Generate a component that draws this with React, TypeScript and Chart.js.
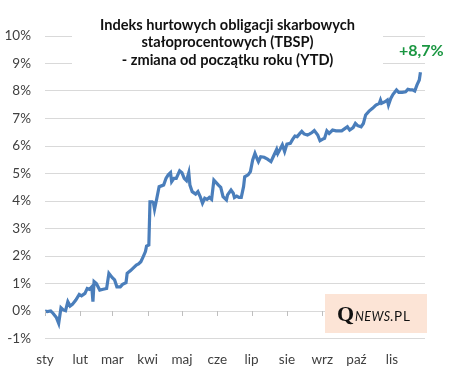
import { useEffect, useRef } from "react";
import { Chart, registerables } from "chart.js";

Chart.register(...registerables);

const monthLabels = ["sty", "lut", "mar", "kwi", "maj", "cze", "lip", "sie", "wrz", "paź", "lis"];
const monthStartDays = [0, 31, 59, 90, 120, 151, 181, 212, 243, 273, 304];

const days = [
  0, 2, 5, 7, 10, 12, 14, 16, 18, 20, 22, 24, 27, 30, 32, 35, 37, 39, 41, 42, 43, 45, 48, 51, 54, 56, 59, 61, 63, 66, 68, 71, 72, 75, 77, 80, 82,
  84, 86, 88, 89, 91, 92, 94, 95, 96, 98, 100, 102, 104, 106, 108, 110, 111, 113, 115, 118, 120, 122, 124, 126, 127, 129, 132, 134, 136, 138, 140, 142, 144, 146, 148, 150, 152, 154, 156, 159,
  160, 163, 165, 166, 168, 170, 172, 174, 175, 178, 180, 182, 184, 186, 187, 189, 192, 195, 198, 200, 203, 204, 206, 208, 210, 212, 215, 217, 219, 221, 223, 225, 227, 230, 232, 234, 236, 239, 241, 243, 245,
  247, 249, 252, 255, 257, 260, 263, 265, 267, 270, 272, 274, 277, 279, 281, 284, 287, 290, 293, 294, 295, 298, 300, 301, 303, 305, 308, 310, 313, 316, 318, 320, 322, 324, 326, 328, 329,
];

const values = [
  0.0, -0.02, 0.0, -0.08, -0.24, -0.45, 0.12, 0.04, 0.01, 0.34, 0.18, 0.24, 0.4, 0.6, 0.55, 0.64, 0.82, 0.79, 0.88, 0.34, 1.07, 1.0, 0.76, 0.79, 0.82, 1.37, 1.21, 1.13, 0.88, 0.88, 0.97, 1.03, 1.37, 1.47, 1.55, 1.67, 1.71,
  1.79, 1.97, 2.16, 2.36, 2.4, 3.97, 3.97, 3.94, 3.7, 4.1, 4.52, 4.55, 4.58, 4.82, 4.95, 5.03, 4.7, 4.82, 4.82, 5.1, 5.03, 4.82, 4.74, 5.03, 4.58, 4.34, 4.25, 4.34, 4.16, 3.92, 4.1, 4.06, 4.13, 4.06, 4.76, 4.67, 4.58, 4.5, 4.16, 4.04,
  4.22, 4.4, 4.28, 4.13, 4.18, 4.13, 4.13, 4.52, 4.88, 4.95, 5.07, 5.49, 5.73, 5.52, 5.43, 5.61, 5.59, 5.52, 5.43, 5.61, 5.88, 5.73, 5.88, 6.04, 5.8, 6.07, 6.1, 6.24, 6.36, 6.34, 6.44, 6.53, 6.44, 6.4, 6.44, 6.49, 6.56, 6.4, 6.19, 6.24, 6.28,
  6.55, 6.46, 6.58, 6.55, 6.55, 6.55, 6.64, 6.7, 6.58, 6.67, 6.82, 6.74, 6.7, 6.82, 7.13, 7.27, 7.37, 7.49, 7.55, 7.67, 7.55, 7.61, 7.67, 7.49, 7.73, 7.88, 8.04, 7.95, 7.95, 7.97, 8.06, 8.04, 8.04, 8.0, 8.22, 8.4, 8.68,
];

const yMin = -1;
const yMax = 10;
const xMax = 333;

const titleLines = [
  "Indeks hurtowych obligacji skarbowych",
  "stałoprocentowych (TBSP)",
  "- zmiana od początku roku (YTD)",
];
const annotationText = "+8,7%";

const FONT = "Lato, 'Open Sans', sans-serif";

const overlayPlugin = {
  id: "overlay",
  beforeDatasetsDraw(chart: any) {
    const ctx = chart.ctx;
    ctx.save();
    ctx.fillStyle = "#ffffff";
    ctx.fillRect(72, 10, 311, 62);
    ctx.restore();
  },
  afterDraw(chart: any) {
    const ctx = chart.ctx;
    const xs = chart.scales.x;
    const ys = chart.scales.y;
    ctx.save();
    // tick marks on the zero line
    const y0 = ys.getPixelForValue(0);
    ctx.strokeStyle = "#BFBFBF";
    ctx.lineWidth = 1;
    monthStartDays.forEach((d) => {
      const px = Math.round(xs.getPixelForValue(d)) + 0.5;
      ctx.beginPath();
      ctx.moveTo(px, y0);
      ctx.lineTo(px, y0 + 5);
      ctx.stroke();
    });

    // title
    ctx.fillStyle = "#111111";
    ctx.font = `bold 14.6px ${FONT}`;
    ctx.textAlign = "center";
    ctx.textBaseline = "alphabetic";
    const baselines = [29.5, 47, 64.5];
    titleLines.forEach((t, i) => ctx.fillText(t, 227.5, baselines[i]));

    // annotation
    ctx.fillStyle = "#1A9641";
    ctx.font = `bold 16px ${FONT}`;
    ctx.textAlign = "left";
    ctx.fillText(annotationText, 399, 56);

    // logo
    ctx.fillStyle = "#FCE4D6";
    ctx.fillRect(325, 294, 102, 39);
    ctx.fillStyle = "#111111";
    ctx.textAlign = "left";
    ctx.font = "bold 22px 'Liberation Serif', serif";
    ctx.fillText("Q", 337, 321);
    let x = 355;
    ctx.font = `italic 12.5px ${FONT}`;
    (ctx as any).letterSpacing = "0.4px";
    ctx.fillText("NEWS", x, 321);
    x = 390;
    ctx.font = `13.5px ${FONT}`;
    (ctx as any).letterSpacing = "0.8px";
    ctx.fillText(".PL", x, 321);
    (ctx as any).letterSpacing = "0px";
    ctx.restore();
  },
};

export default function App() {
  const ref = useRef<HTMLCanvasElement | null>(null);

  useEffect(() => {
    if (!ref.current) return;
    const points = days.map((d, i) => ({ x: d, y: values[i] }));
    const chart = new Chart(ref.current, {
      type: "line",
      data: {
        datasets: [
          {
            data: points,
            borderColor: "#4A7EBB",
            borderWidth: 3.2,
            pointRadius: 0,
            tension: 0,
            fill: false,
          },
        ],
      },
      options: {
        animation: false,
        responsive: false,
        maintainAspectRatio: false,
        layout: { padding: { left: 0, right: 32, top: 36, bottom: 0 } },
        plugins: {
          legend: { display: false },
          tooltip: { enabled: false },
          title: { display: false },
        },
        scales: {
          x: {
            type: "linear",
            min: 0,
            max: xMax,
            afterBuildTicks: (s: any) => {
              s.ticks = monthStartDays.map((v) => ({ value: v }));
            },
            afterFit: (s: any) => {
              s.height = 37.5;
            },
            ticks: {
              autoSkip: false,
              maxRotation: 0,
              padding: 13,
              color: "#404040",
              font: { family: FONT, size: 13.5 },
              callback: (v: any) => {
                const i = monthStartDays.indexOf(Number(v));
                return i >= 0 ? monthLabels[i] : "";
              },
            },
            grid: { display: false, drawTicks: false },
            border: { display: false },
          },
          y: {
            min: yMin,
            max: yMax,
            afterFit: (s: any) => {
              s.width = 45;
            },
            ticks: {
              stepSize: 1,
              padding: 14,
              color: "#404040",
              font: { family: FONT, size: 13.5 },
              callback: (v: any) => `${v}%`,
            },
            grid: { color: "#D9D9D9", drawTicks: false, lineWidth: 1 },
            border: { display: false },
          },
        },
      },
      plugins: [overlayPlugin],
    });
    return () => chart.destroy();
  }, []);

  return (
    <div style={{ position: "fixed", left: 0, top: 0, width: 457, height: 376, background: "#fff" }}>
      <canvas ref={ref} width={457} height={376} style={{ display: "block" }} />
    </div>
  );
}
